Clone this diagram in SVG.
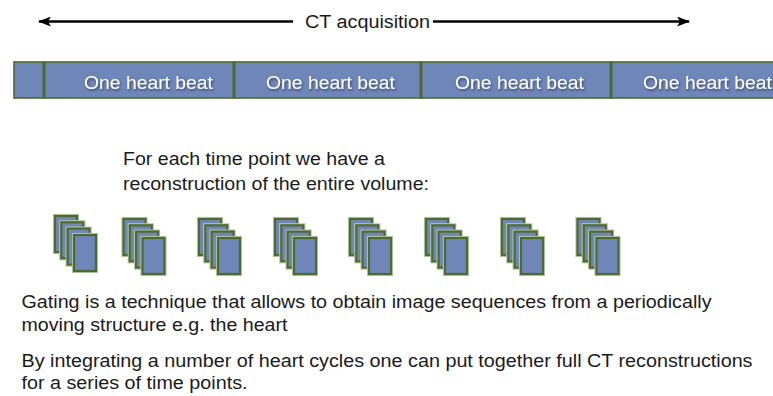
<svg xmlns="http://www.w3.org/2000/svg" width="773" height="396" viewBox="0 0 773 396">
<style>
text{font-family:"Liberation Sans",Arial,Helvetica,sans-serif;}
.t{font-size:17.5px;fill:#1a1a1a;}
.beat{font-size:18px;fill:#ffffff;filter:url(#sh);}
.seg{fill:#6f86b9;stroke:#4e6b2e;stroke-width:1.6;}
.div{stroke:#4e6b2e;stroke-width:3;}
.card{fill:#6f86b9;stroke:#4e6b2e;stroke-width:2.2;}
.halo{fill:none;stroke:#b8c8a8;stroke-width:4.2;}
.arr{stroke:#000;stroke-width:2.6;fill:none;}
</style>
<defs>
<filter id="sh" x="-10%" y="-30%" width="130%" height="180%">
<feDropShadow dx="1" dy="1.5" stdDeviation="1.3" flood-color="#1e2a44" flood-opacity="0.7"/>
</filter>
<marker id="ah" viewBox="0 0 13 10" refX="12" refY="5" markerWidth="13" markerHeight="10" markerUnits="userSpaceOnUse" orient="auto-start-reverse">
<path d="M0,0 L13,5 L0,10 L3,5 Z" fill="#000"/>
</marker>
<g id="stack">
<rect class="halo" x="0" y="0" width="22" height="36"/>
<rect class="card" x="0" y="0" width="22" height="36"/>
<rect class="halo" x="6.3" y="6.3" width="22" height="36"/>
<rect class="card" x="6.3" y="6.3" width="22" height="36"/>
<rect class="halo" x="12.6" y="12.6" width="22" height="36"/>
<rect class="card" x="12.6" y="12.6" width="22" height="36"/>
<rect class="halo" x="19" y="19" width="22" height="36"/>
<rect class="card" x="19" y="19" width="22" height="36"/>
</g>
</defs>

<g id="connectors">
<line class="arr" x1="39" y1="21.5" x2="293" y2="21.5" marker-start="url(#ah)"/>
<line class="arr" x1="433" y1="21.5" x2="689" y2="21.5" marker-end="url(#ah)"/>
</g>

<g id="ct-label">
<text class="t" x="305" y="28" textLength="125" lengthAdjust="spacingAndGlyphs" style="font-size:18px">CT acquisition</text>
</g>

<g id="timeline">
<rect class="seg" x="14" y="62" width="30" height="36"/>
<rect class="seg" x="44" y="62" width="190" height="36"/>
<rect class="seg" x="234" y="62" width="187" height="36"/>
<rect class="seg" x="421" y="62" width="190" height="36"/>
<rect class="seg" x="611" y="62" width="190" height="36"/>
<line class="div" x1="44" y1="62" x2="44" y2="98"/>
<line class="div" x1="234" y1="62" x2="234" y2="98"/>
<line class="div" x1="421" y1="62" x2="421" y2="98"/>
<line class="div" x1="611" y1="62" x2="611" y2="98"/>
</g>
<g id="beat1"><text class="beat" x="84" y="89" textLength="129" lengthAdjust="spacingAndGlyphs">One heart beat</text></g>
<g id="beat2"><text class="beat" x="266" y="89" textLength="129" lengthAdjust="spacingAndGlyphs">One heart beat</text></g>
<g id="beat3"><text class="beat" x="455" y="89" textLength="129" lengthAdjust="spacingAndGlyphs">One heart beat</text></g>
<g id="beat4"><text class="beat" x="643" y="89" textLength="129" lengthAdjust="spacingAndGlyphs">One heart beat</text></g>

<g id="caption">
<text class="t" x="123" y="165" textLength="262" lengthAdjust="spacingAndGlyphs">For each time point we have a</text>
<text class="t" x="123" y="190" textLength="306" lengthAdjust="spacingAndGlyphs">reconstruction of the entire volume:</text>
</g>

<g id="volumes">
<use href="#stack" x="55" y="216"/>
<use href="#stack" x="123.5" y="219"/>
<use href="#stack" x="199" y="219"/>
<use href="#stack" x="275" y="219"/>
<use href="#stack" x="350" y="219"/>
<use href="#stack" x="426" y="219"/>
<use href="#stack" x="502" y="219"/>
<use href="#stack" x="577.5" y="219"/>
</g>

<g id="notes">
<text class="t" x="21.5" y="308" textLength="690" lengthAdjust="spacingAndGlyphs">Gating is a technique that allows to obtain image sequences from a periodically</text>
<text class="t" x="21.5" y="331" textLength="266" lengthAdjust="spacingAndGlyphs">moving structure e.g. the heart</text>
<text class="t" x="21.5" y="367" textLength="731" lengthAdjust="spacingAndGlyphs">By integrating a number of heart cycles one can put together full CT reconstructions</text>
<text class="t" x="21.5" y="389" textLength="226" lengthAdjust="spacingAndGlyphs">for a series of time points.</text>
</g>
</svg>
